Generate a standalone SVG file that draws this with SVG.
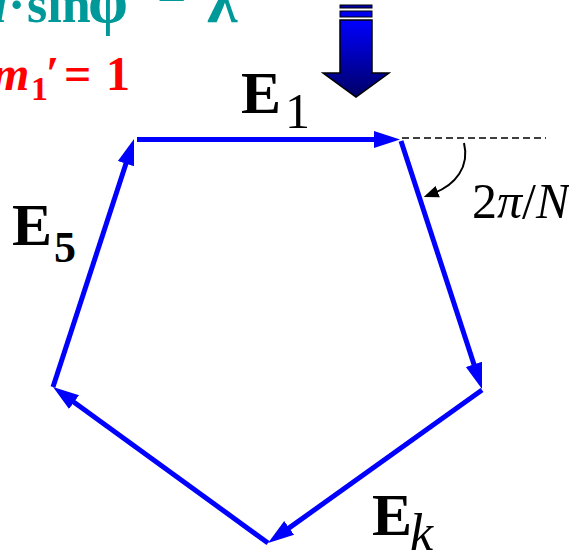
<svg xmlns="http://www.w3.org/2000/svg" width="569" height="553" viewBox="0 0 569 553">
<style>
.serif{font-family:"Liberation Serif","Times New Roman",serif}
.lbl{font-family:"Liberation Serif","Times New Roman",serif;fill:#000}
.E{font-weight:bold;font-size:60px}
.vec{stroke:#0000ff;stroke-width:5;fill:none;marker-end:url(#ah)}
</style>
<defs>
<marker id="ah" markerUnits="userSpaceOnUse" markerWidth="30" markerHeight="20" viewBox="0 0 30 20" refX="6" refY="10" orient="auto">
<path d="M0,1.5 L26,10 L0,18.5 Z" fill="#0000ff"/>
</marker>
<marker id="bh" markerUnits="userSpaceOnUse" markerWidth="20" markerHeight="14" viewBox="0 0 20 14" refX="4" refY="7" orient="auto">
<path d="M0,1 L15,7 L0,13 Z" fill="#000"/>
</marker>
<linearGradient id="bg" x1="0" y1="0" x2="0" y2="1">
<stop offset="0" stop-color="#0000ff"/>
<stop offset="1" stop-color="#000066"/>
</linearGradient>
</defs>
<text class="serif" y="22" font-size="52" font-weight="bold" fill="#009999"><tspan x="-19" font-style="italic">d</tspan><tspan x="8">·</tspan><tspan x="27">sin</tspan><tspan x="88" font-size="64">φ</tspan><tspan x="157" dy="-11" font-size="52">=</tspan><tspan x="207" dy="11" font-size="62">λ</tspan></text>
<text class="serif" y="90" font-size="48" font-weight="bold" fill="#ff0000"><tspan x="-8" font-style="italic">m</tspan><tspan x="31" y="100" font-size="34">1</tspan><tspan x="46" y="90">′</tspan><tspan x="64">=</tspan><tspan x="106">1</tspan></text>
<g id="beam">
<rect x="340" y="5" width="32" height="3" fill="#0000aa" stroke="#000" stroke-width="1"/>
<rect x="340" y="11" width="32" height="6" fill="#0000ee" stroke="#000" stroke-width="1"/>
<path d="M340,20 H372 V73 H389 L356,97 L323,73 H340 Z" fill="url(#bg)" stroke="#000" stroke-width="1.5"/>
</g>
<g id="connectors">
<line x1="137" y1="139.5" x2="380" y2="139.5" class="vec"/>
<line x1="401" y1="141" x2="475.8" y2="370" class="vec"/>
<line x1="482" y1="390" x2="284.3" y2="531.4" class="vec"/>
<line x1="268" y1="543" x2="69.2" y2="398.7" class="vec"/>
<line x1="53" y1="387" x2="127.8" y2="158" class="vec"/>
<line x1="402" y1="138" x2="546" y2="138" stroke="#000" stroke-width="1.5" stroke-dasharray="7,4"/>
<path d="M464,143 C470,167 455,185 434,193" fill="none" stroke="#000" stroke-width="2" marker-end="url(#bh)"/>
</g>
<g id="E1"><text class="lbl E" x="241" y="113">E</text><text class="lbl" x="285" y="128" font-size="50">1</text></g>
<g id="E5"><text class="lbl E" x="12" y="245">E</text><text class="lbl" x="54" y="262" font-size="44" font-weight="bold">5</text></g>
<g id="Ek"><text class="lbl E" x="372" y="535">E</text><text class="lbl" x="410" y="550" font-size="52" font-style="italic">k</text></g>
<g id="angle"><text class="lbl" x="472" y="218" font-size="50">2<tspan font-style="italic">π</tspan>/<tspan font-style="italic">N</tspan></text></g>
</svg>
